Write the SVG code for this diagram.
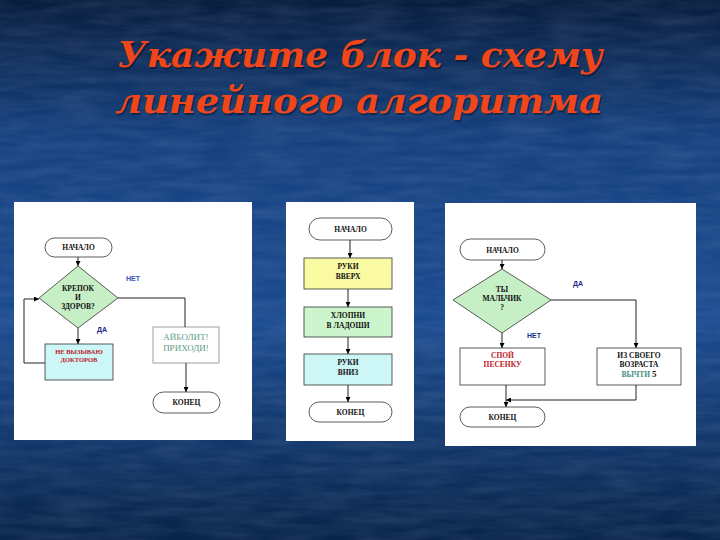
<svg xmlns="http://www.w3.org/2000/svg" width="720" height="540" viewBox="0 0 720 540">
<defs>
<linearGradient id="bg" x1="0" y1="0" x2="0" y2="1">
<stop offset="0" stop-color="#081d3e"/>
<stop offset="0.25" stop-color="#15407e"/>
<stop offset="0.6" stop-color="#1b4b90"/>
<stop offset="1" stop-color="#082449"/>
</linearGradient>
<filter id="tex" x="0" y="0" width="1" height="1">
<feTurbulence type="fractalNoise" baseFrequency="0.02 0.12" numOctaves="3" seed="4"/>
<feColorMatrix type="matrix" values="0 0 0 0 0.6  0 0 0 0 0.7  0 0 0 0 0.9  0 0 0 0.5 -0.12"/>
</filter>
<marker id="ah" viewBox="0 0 10 10" refX="10" refY="5" markerWidth="5" markerHeight="5" orient="auto">
<path d="M0,0 L10,5 L0,10 z" fill="#000"/>
</marker>
<style>
.panel{fill:#fff}
.term{fill:#fff;stroke:#333;stroke-width:0.8}
.box{stroke:#333;stroke-width:0.8}
.dia{fill:#c6efc6;stroke:#333;stroke-width:0.8}
.t{font-family:"Liberation Serif",serif;font-weight:bold;font-size:7.5px;text-anchor:middle;fill:#111}
.lbl{font-family:"Liberation Sans",sans-serif;font-weight:bold;font-size:7px;fill:#1a2b8a}
.ln{fill:none;stroke:#222;stroke-width:1}
.title{font-family:"DejaVu Serif","Liberation Serif",serif;font-weight:bold;font-style:italic;font-size:36px;fill:#f0461a;text-anchor:middle}
.shadow{fill:#000;opacity:0.35}
</style>
</defs>
<rect width="720" height="540" fill="url(#bg)"/>
<rect width="720" height="540" filter="url(#tex)" opacity="0.35"/>

<g id="title">
<text class="title shadow" x="361.5" y="68.5" textLength="485" lengthAdjust="spacingAndGlyphs">Укажите блок - схему</text>
<text class="title" x="360" y="67" textLength="485" lengthAdjust="spacingAndGlyphs">Укажите блок - схему</text>
<text class="title shadow" x="360.5" y="114.5" textLength="488" lengthAdjust="spacingAndGlyphs">линейного алгоритма</text>
<text class="title" x="359" y="113" textLength="488" lengthAdjust="spacingAndGlyphs">линейного алгоритма</text>
</g>

<!-- Panel 1 -->
<rect class="panel" x="14" y="202" width="238" height="238"/>
<g id="p1-start"><rect class="term" x="45" y="238" width="67" height="19" rx="9.5"/><text class="t" x="78.5" y="250">НАЧАЛО</text></g>
<g id="p1-cond"><polygon class="dia" points="78,266 118,298 78,328 39,298"/>
<text class="t" x="78" y="291">КРЕПОК</text><text class="t" x="78" y="300">И</text><text class="t" x="78" y="309">ЗДОРОВ?</text></g>
<g id="p1-yes"><rect class="box" x="45" y="344" width="68" height="36" fill="#cdf6f6"/>
<text class="t" x="79" y="354" style="fill:#c0202a;font-size:6.5px">НЕ ВЫЗЫВАЮ</text><text class="t" x="79" y="362" style="fill:#c0202a;font-size:6.5px">ДОКТОРОВ</text></g>
<g id="p1-no"><rect class="box" x="153" y="327" width="66" height="36" fill="#fff" style="stroke:#888"/>
<text class="t" x="186" y="340" style="fill:#5c9c88;font-weight:normal;font-size:9px">АЙБОЛИТ!</text><text class="t" x="186" y="351" style="fill:#5c9c88;font-weight:normal;font-size:9px">ПРИХОДИ!</text></g>
<g id="p1-end"><rect class="term" x="153" y="392" width="67" height="21" rx="10.5"/><text class="t" x="186.5" y="405">КОНЕЦ</text></g>
<text class="lbl" x="126" y="281" style="fill:#3355bb">НЕТ</text>
<text class="lbl" x="97" y="332">ДА</text>

<!-- Panel 2 -->
<rect class="panel" x="286" y="202" width="128" height="239"/>
<g id="p2-start"><rect class="term" x="309" y="218" width="83" height="22" rx="11"/><text class="t" x="350.5" y="232">НАЧАЛО</text></g>
<g id="p2-up"><rect class="box" x="304" y="258" width="88" height="31" fill="#fafaa2"/><text class="t" x="348" y="269">РУКИ</text><text class="t" x="348" y="279">ВВЕРХ</text></g>
<g id="p2-clap"><rect class="box" x="304" y="307" width="88" height="30" fill="#cdf5cd"/><text class="t" x="348" y="318">ХЛОПНИ</text><text class="t" x="348" y="328">В ЛАДОШИ</text></g>
<g id="p2-down"><rect class="box" x="304" y="354" width="88" height="31" fill="#cdf6f6"/><text class="t" x="348" y="365">РУКИ</text><text class="t" x="348" y="375">ВНИЗ</text></g>
<g id="p2-end"><rect class="term" x="309" y="402" width="83" height="20" rx="10"/><text class="t" x="350.5" y="414.5">КОНЕЦ</text></g>

<!-- Panel 3 -->
<rect class="panel" x="445" y="203" width="251" height="243"/>
<g id="p3-start"><rect class="term" x="460" y="239" width="85" height="21" rx="10.5"/><text class="t" x="502.5" y="252.5">НАЧАЛО</text></g>
<g id="p3-cond"><polygon class="dia" points="502,269 551,300 502,333 453,300"/>
<text class="t" x="502" y="292">ТЫ</text><text class="t" x="502" y="301">МАЛЬЧИК</text><text class="t" x="502" y="310">?</text></g>
<g id="p3-no"><rect class="box" x="460" y="348" width="85" height="37" fill="#fff"/>
<text class="t" x="502.5" y="358" style="fill:#c0202a">СПОЙ</text><text class="t" x="502.5" y="367" style="fill:#c0202a">ПЕСЕНКУ</text></g>
<g id="p3-yes"><rect class="box" x="597" y="348" width="84" height="37" fill="#fff"/>
<text class="t" x="639" y="358">ИЗ СВОЕГО</text><text class="t" x="639" y="367">ВОЗРАСТА</text>
<text class="t" x="639" y="377"><tspan style="fill:#3d8f80">ВЫЧТИ</tspan> <tspan style="font-size:9px">5</tspan></text></g>
<g id="p3-end"><rect class="term" x="460" y="407" width="85" height="20" rx="10"/><text class="t" x="502.5" y="420">КОНЕЦ</text></g>
<text class="lbl" x="573" y="286">ДА</text>
<text class="lbl" x="527" y="338">НЕТ</text>

<g id="connectors">
<line class="ln" x1="78" y1="257" x2="78" y2="266" marker-end="url(#ah)"/>
<line class="ln" x1="78" y1="328" x2="78" y2="344" marker-end="url(#ah)"/>
<polyline class="ln" points="45,363 24,363 24,299 39,299" marker-end="url(#ah)"/>
<polyline class="ln" points="118,298 185,298 185,327"/>
<line class="ln" x1="186" y1="363" x2="186" y2="392" marker-end="url(#ah)"/>

<line class="ln" x1="350" y1="240" x2="350" y2="258" marker-end="url(#ah)"/>
<line class="ln" x1="348" y1="289" x2="348" y2="307" marker-end="url(#ah)"/>
<line class="ln" x1="348" y1="337" x2="348" y2="354" marker-end="url(#ah)"/>
<line class="ln" x1="348" y1="385" x2="348" y2="402" marker-end="url(#ah)"/>

<line class="ln" x1="502" y1="260" x2="502" y2="269" marker-end="url(#ah)"/>
<line class="ln" x1="502" y1="333" x2="502" y2="348" marker-end="url(#ah)"/>
<polyline class="ln" points="551,300 636,300 636,348" marker-end="url(#ah)"/>
<line class="ln" x1="506" y1="385" x2="506" y2="407" marker-end="url(#ah)"/>
<polyline class="ln" points="636,385 636,400 506,400" marker-end="url(#ah)"/>
</g>
</svg>
